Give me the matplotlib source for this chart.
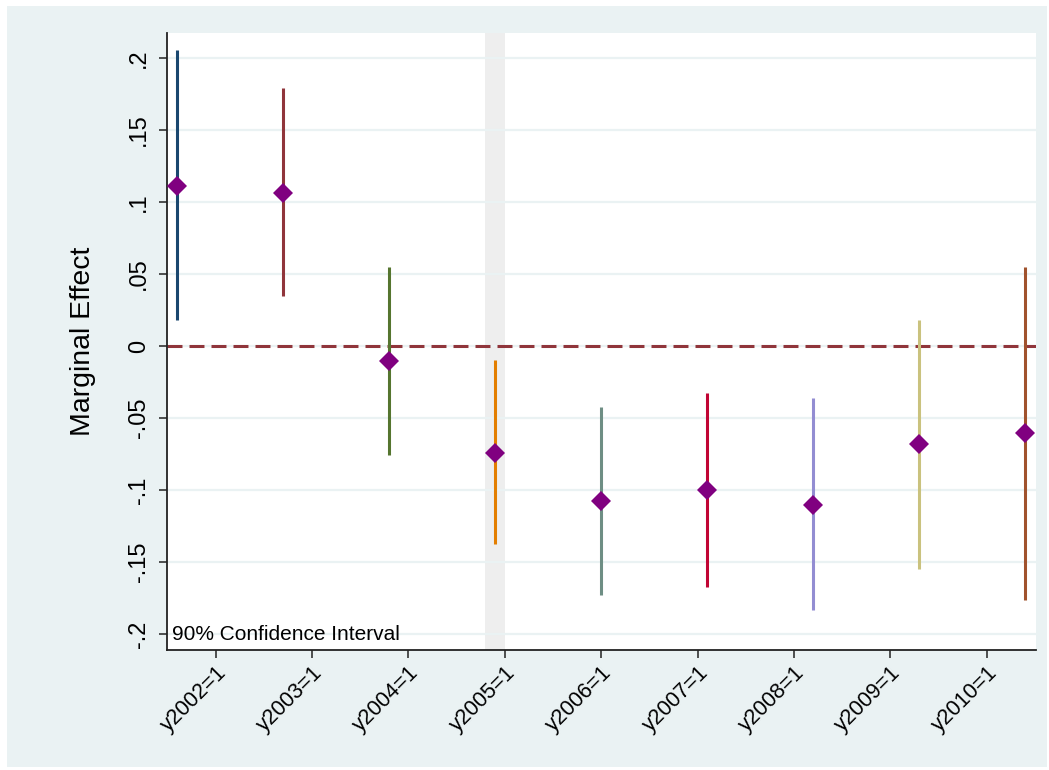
import matplotlib
matplotlib.use('Agg')
import matplotlib.pyplot as plt
import numpy as np
from matplotlib.patches import Rectangle

plt.rcParams['font.family'] = ['Liberation Sans', 'DejaVu Sans']

# coefficient estimates and 90% CI
labels = ['y2002=1', 'y2003=1', 'y2004=1', 'y2005=1', 'y2006=1',
          'y2007=1', 'y2008=1', 'y2009=1', 'y2010=1']
coef = [0.111, 0.106, -0.0104, -0.0743, -0.1076, -0.100, -0.110, -0.068, -0.0604]
ci_low = [0.018, 0.0347, -0.0757, -0.1375, -0.173, -0.167, -0.183, -0.155, -0.176]
ci_high = [0.2056, 0.179, 0.0549, -0.0097, -0.0424, -0.0326, -0.036, 0.018, 0.055]
ci_colors = ['#1a476f', '#90353b', '#55752f', '#e37e00', '#6e8e84',
             '#c10534', '#938dd2', '#cac27e', '#a0522d']
yticks = [-0.2, -0.15, -0.1, -0.05, 0, 0.05, 0.1, 0.15, 0.2]
ytick_labels = ['-.2', '-.15', '-.1', '-.05', '0', '.05', '.1', '.15', '.2']
ref_year = 3  # index of the shaded base year (2005)

bg = '#eaf2f3'
fig = plt.figure(figsize=(10.49, 7.70), dpi=100, facecolor='white')
fig.patches.append(Rectangle((7 / 1049, 3 / 770), 1040 / 1049, 761 / 770,
                             transform=fig.transFigure, facecolor=bg,
                             edgecolor='none', zorder=-10))
ax = fig.add_axes([167 / 1049, 120 / 770, 869 / 1049, 617 / 770])
ax.set_facecolor('white')

x = np.arange(1, len(labels) + 1)
xticks = (np.arange(len(labels)) + 1.5) * 10 / 11

# shaded band for the reference year
ax.axvspan(x[ref_year] - 0.094, x[ref_year] + 0.094, color='#eeeeee', lw=0, zorder=1)

for yv in yticks:
    ax.axhline(yv, color=bg, lw=1.6, zorder=1.5)

ax.axhline(0, color='#90353b', lw=2.2, dashes=(4.9, 2.3), zorder=2)

for xi, lo, hi, c in zip(x, ci_low, ci_high, ci_colors):
    ax.plot([xi, xi], [lo, hi], color=c, lw=2.2, solid_capstyle='butt', zorder=3)

ax.plot(x, coef, linestyle='none', marker='D', markersize=10.5,
        color='#800080', markeredgewidth=0, zorder=4)

ax.set_xlim(0.906, 9.10)
ax.set_ylim(-0.211, 0.2174)

ax.set_yticks(yticks)
ax.set_yticklabels(ytick_labels, rotation=90, va='center', fontsize=17)
ax.set_xticks(xticks)
ax.set_xticklabels(labels, rotation=45, ha='right', rotation_mode='anchor', fontsize=15.5)
ax.tick_params(axis='both', direction='out', length=6, width=1.1, color='#222222', pad=3)
ax.tick_params(axis='y', pad=6)

for side in ['top', 'right']:
    ax.spines[side].set_visible(False)
for side in ['left', 'bottom']:
    ax.spines[side].set_linewidth(1.3)
    ax.spines[side].set_color('#222222')

ax.set_ylabel('Marginal Effect', fontsize=20.5, labelpad=23)

ax.text(0.95, -0.2, '90% Confidence Interval', fontsize=15, va='center', ha='left', zorder=5)

fig.savefig('out.png', dpi=100, facecolor='white')
